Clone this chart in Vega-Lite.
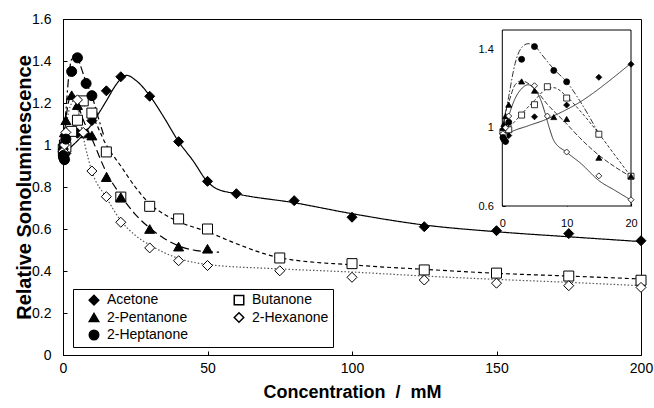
{
  "$schema": "https://vega.github.io/schema/vega-lite/v6.json",
  "width": 578,
  "height": 336,
  "autosize": {"type": "none"},
  "padding": {"left": 63, "top": 19, "right": 13, "bottom": 53},
  "background": "white",
  "config": {
    "font": "Liberation Sans",
    "view": {"stroke": "black", "strokeWidth": 1},
    "axis": {"grid": false, "labelFlush": false, "labelColor": "black", "domainColor": "black", "tickColor": "black", "titleColor": "black"},
    "legend": {
      "orient": "none", "legendX": 10, "legendY": 270, "columns": 2, "title": null,
      "strokeColor": "black", "fillColor": "white", "padding": 4,
      "symbolSize": 90, "symbolOffset": 10, "labelOffset": 6, "gridAlign": "all",
      "labelFontSize": 14, "labelColor": "black", "columnPadding": 34, "rowPadding": 1.5
    }
  },
  "datasets": {
    "points": [
      {"series": "Acetone", "conc": 0.1, "rsl": 0.97},
      {"series": "Acetone", "conc": 0.25, "rsl": 0.95},
      {"series": "Acetone", "conc": 0.5, "rsl": 0.93},
      {"series": "Acetone", "conc": 1, "rsl": 0.96},
      {"series": "Acetone", "conc": 5, "rsl": 1.056},
      {"series": "Acetone", "conc": 10, "rsl": 1.116},
      {"series": "Acetone", "conc": 15, "rsl": 1.258},
      {"series": "Acetone", "conc": 20, "rsl": 1.325},
      {"series": "Acetone", "conc": 30, "rsl": 1.232},
      {"series": "Acetone", "conc": 40, "rsl": 1.016},
      {"series": "Acetone", "conc": 50, "rsl": 0.827},
      {"series": "Acetone", "conc": 60, "rsl": 0.768},
      {"series": "Acetone", "conc": 80, "rsl": 0.735},
      {"series": "Acetone", "conc": 100, "rsl": 0.656},
      {"series": "Acetone", "conc": 125, "rsl": 0.611},
      {"series": "Acetone", "conc": 150, "rsl": 0.592},
      {"series": "Acetone", "conc": 175, "rsl": 0.578},
      {"series": "Acetone", "conc": 200, "rsl": 0.544},
      {"series": "Butanone", "conc": 0.1, "rsl": 0.98},
      {"series": "Butanone", "conc": 0.25, "rsl": 0.96},
      {"series": "Butanone", "conc": 0.5, "rsl": 1.0},
      {"series": "Butanone", "conc": 1, "rsl": 0.99},
      {"series": "Butanone", "conc": 3, "rsl": 1.065},
      {"series": "Butanone", "conc": 5, "rsl": 1.118},
      {"series": "Butanone", "conc": 7, "rsl": 1.21},
      {"series": "Butanone", "conc": 10, "rsl": 1.152},
      {"series": "Butanone", "conc": 15, "rsl": 0.967},
      {"series": "Butanone", "conc": 20, "rsl": 0.752},
      {"series": "Butanone", "conc": 30, "rsl": 0.708},
      {"series": "Butanone", "conc": 40, "rsl": 0.648},
      {"series": "Butanone", "conc": 50, "rsl": 0.6},
      {"series": "Butanone", "conc": 75, "rsl": 0.462},
      {"series": "Butanone", "conc": 100, "rsl": 0.435},
      {"series": "Butanone", "conc": 125, "rsl": 0.405},
      {"series": "Butanone", "conc": 150, "rsl": 0.39},
      {"series": "Butanone", "conc": 175, "rsl": 0.376},
      {"series": "Butanone", "conc": 200, "rsl": 0.356},
      {"series": "2-Pentanone", "conc": 0.1, "rsl": 1.0},
      {"series": "2-Pentanone", "conc": 0.25, "rsl": 1.02},
      {"series": "2-Pentanone", "conc": 0.5, "rsl": 1.06},
      {"series": "2-Pentanone", "conc": 1, "rsl": 1.118},
      {"series": "2-Pentanone", "conc": 3, "rsl": 1.237},
      {"series": "2-Pentanone", "conc": 5, "rsl": 1.19},
      {"series": "2-Pentanone", "conc": 8, "rsl": 1.055},
      {"series": "2-Pentanone", "conc": 10, "rsl": 1.045},
      {"series": "2-Pentanone", "conc": 15, "rsl": 0.847},
      {"series": "2-Pentanone", "conc": 20, "rsl": 0.752},
      {"series": "2-Pentanone", "conc": 30, "rsl": 0.6},
      {"series": "2-Pentanone", "conc": 40, "rsl": 0.516},
      {"series": "2-Pentanone", "conc": 50, "rsl": 0.506},
      {"series": "2-Hexanone", "conc": 0.1, "rsl": 0.97},
      {"series": "2-Hexanone", "conc": 0.5, "rsl": 1.0},
      {"series": "2-Hexanone", "conc": 1, "rsl": 1.06},
      {"series": "2-Hexanone", "conc": 5, "rsl": 1.215},
      {"series": "2-Hexanone", "conc": 7, "rsl": 1.06},
      {"series": "2-Hexanone", "conc": 10, "rsl": 0.876},
      {"series": "2-Hexanone", "conc": 15, "rsl": 0.754},
      {"series": "2-Hexanone", "conc": 20, "rsl": 0.632},
      {"series": "2-Hexanone", "conc": 30, "rsl": 0.51},
      {"series": "2-Hexanone", "conc": 40, "rsl": 0.449},
      {"series": "2-Hexanone", "conc": 50, "rsl": 0.426},
      {"series": "2-Hexanone", "conc": 75, "rsl": 0.401},
      {"series": "2-Hexanone", "conc": 100, "rsl": 0.37},
      {"series": "2-Hexanone", "conc": 125, "rsl": 0.357},
      {"series": "2-Hexanone", "conc": 150, "rsl": 0.342},
      {"series": "2-Hexanone", "conc": 175, "rsl": 0.33},
      {"series": "2-Hexanone", "conc": 200, "rsl": 0.322},
      {"series": "2-Heptanone", "conc": 0.1, "rsl": 0.95},
      {"series": "2-Heptanone", "conc": 0.25, "rsl": 0.94},
      {"series": "2-Heptanone", "conc": 0.5, "rsl": 0.93},
      {"series": "2-Heptanone", "conc": 1, "rsl": 1.028},
      {"series": "2-Heptanone", "conc": 3, "rsl": 1.35},
      {"series": "2-Heptanone", "conc": 5, "rsl": 1.415},
      {"series": "2-Heptanone", "conc": 8, "rsl": 1.293},
      {"series": "2-Heptanone", "conc": 10, "rsl": 1.235}
    ],
    "fit": [
      {"series": "Acetone", "conc": 0, "rsl": 0.95},
      {"series": "Acetone", "conc": 2, "rsl": 0.98},
      {"series": "Acetone", "conc": 5, "rsl": 1.02},
      {"series": "Acetone", "conc": 8, "rsl": 1.065},
      {"series": "Acetone", "conc": 10, "rsl": 1.1},
      {"series": "Acetone", "conc": 13, "rsl": 1.165},
      {"series": "Acetone", "conc": 15, "rsl": 1.21},
      {"series": "Acetone", "conc": 18, "rsl": 1.28},
      {"series": "Acetone", "conc": 20, "rsl": 1.315},
      {"series": "Acetone", "conc": 22, "rsl": 1.332},
      {"series": "Acetone", "conc": 25, "rsl": 1.31},
      {"series": "Acetone", "conc": 30, "rsl": 1.235},
      {"series": "Acetone", "conc": 35, "rsl": 1.13},
      {"series": "Acetone", "conc": 40, "rsl": 1.016},
      {"series": "Acetone", "conc": 45, "rsl": 0.925},
      {"series": "Acetone", "conc": 50, "rsl": 0.825},
      {"series": "Acetone", "conc": 53, "rsl": 0.793},
      {"series": "Acetone", "conc": 60, "rsl": 0.768},
      {"series": "Acetone", "conc": 80, "rsl": 0.725},
      {"series": "Acetone", "conc": 100, "rsl": 0.673},
      {"series": "Acetone", "conc": 125, "rsl": 0.619},
      {"series": "Acetone", "conc": 150, "rsl": 0.587},
      {"series": "Acetone", "conc": 175, "rsl": 0.563},
      {"series": "Acetone", "conc": 200, "rsl": 0.54},
      {"series": "Butanone", "conc": 0, "rsl": 0.97},
      {"series": "Butanone", "conc": 1, "rsl": 1.0},
      {"series": "Butanone", "conc": 3, "rsl": 1.07},
      {"series": "Butanone", "conc": 5, "rsl": 1.14},
      {"series": "Butanone", "conc": 7, "rsl": 1.19},
      {"series": "Butanone", "conc": 10, "rsl": 1.14},
      {"series": "Butanone", "conc": 15, "rsl": 1.0},
      {"series": "Butanone", "conc": 20, "rsl": 0.9},
      {"series": "Butanone", "conc": 25, "rsl": 0.8},
      {"series": "Butanone", "conc": 30, "rsl": 0.72},
      {"series": "Butanone", "conc": 35, "rsl": 0.67},
      {"series": "Butanone", "conc": 40, "rsl": 0.635},
      {"series": "Butanone", "conc": 50, "rsl": 0.587},
      {"series": "Butanone", "conc": 60, "rsl": 0.53},
      {"series": "Butanone", "conc": 75, "rsl": 0.463},
      {"series": "Butanone", "conc": 100, "rsl": 0.429},
      {"series": "Butanone", "conc": 125, "rsl": 0.408},
      {"series": "Butanone", "conc": 150, "rsl": 0.389},
      {"series": "Butanone", "conc": 175, "rsl": 0.376},
      {"series": "Butanone", "conc": 200, "rsl": 0.362},
      {"series": "2-Pentanone", "conc": 0, "rsl": 0.97},
      {"series": "2-Pentanone", "conc": 0.5, "rsl": 1.05},
      {"series": "2-Pentanone", "conc": 1, "rsl": 1.12},
      {"series": "2-Pentanone", "conc": 2, "rsl": 1.21},
      {"series": "2-Pentanone", "conc": 3, "rsl": 1.24},
      {"series": "2-Pentanone", "conc": 4, "rsl": 1.235},
      {"series": "2-Pentanone", "conc": 5, "rsl": 1.2},
      {"series": "2-Pentanone", "conc": 7, "rsl": 1.12},
      {"series": "2-Pentanone", "conc": 10, "rsl": 1.03},
      {"series": "2-Pentanone", "conc": 15, "rsl": 0.87},
      {"series": "2-Pentanone", "conc": 20, "rsl": 0.76},
      {"series": "2-Pentanone", "conc": 25, "rsl": 0.67},
      {"series": "2-Pentanone", "conc": 30, "rsl": 0.605},
      {"series": "2-Pentanone", "conc": 35, "rsl": 0.555},
      {"series": "2-Pentanone", "conc": 40, "rsl": 0.52},
      {"series": "2-Pentanone", "conc": 45, "rsl": 0.5},
      {"series": "2-Pentanone", "conc": 50, "rsl": 0.492},
      {"series": "2-Pentanone", "conc": 54, "rsl": 0.49},
      {"series": "2-Hexanone", "conc": 0, "rsl": 0.96},
      {"series": "2-Hexanone", "conc": 1, "rsl": 1.08},
      {"series": "2-Hexanone", "conc": 2, "rsl": 1.16},
      {"series": "2-Hexanone", "conc": 3, "rsl": 1.2},
      {"series": "2-Hexanone", "conc": 4, "rsl": 1.215},
      {"series": "2-Hexanone", "conc": 5, "rsl": 1.18},
      {"series": "2-Hexanone", "conc": 6, "rsl": 1.11},
      {"series": "2-Hexanone", "conc": 7.6, "rsl": 1.0},
      {"series": "2-Hexanone", "conc": 10, "rsl": 0.875},
      {"series": "2-Hexanone", "conc": 15, "rsl": 0.75},
      {"series": "2-Hexanone", "conc": 20, "rsl": 0.64},
      {"series": "2-Hexanone", "conc": 25, "rsl": 0.57},
      {"series": "2-Hexanone", "conc": 30, "rsl": 0.524},
      {"series": "2-Hexanone", "conc": 40, "rsl": 0.46},
      {"series": "2-Hexanone", "conc": 50, "rsl": 0.431},
      {"series": "2-Hexanone", "conc": 75, "rsl": 0.41},
      {"series": "2-Hexanone", "conc": 100, "rsl": 0.395},
      {"series": "2-Hexanone", "conc": 125, "rsl": 0.376},
      {"series": "2-Hexanone", "conc": 150, "rsl": 0.36},
      {"series": "2-Hexanone", "conc": 175, "rsl": 0.346},
      {"series": "2-Hexanone", "conc": 200, "rsl": 0.33},
      {"series": "2-Heptanone", "conc": 0, "rsl": 0.97},
      {"series": "2-Heptanone", "conc": 0.5, "rsl": 1.07},
      {"series": "2-Heptanone", "conc": 1, "rsl": 1.16},
      {"series": "2-Heptanone", "conc": 2, "rsl": 1.33},
      {"series": "2-Heptanone", "conc": 3, "rsl": 1.41},
      {"series": "2-Heptanone", "conc": 4, "rsl": 1.43},
      {"series": "2-Heptanone", "conc": 5, "rsl": 1.42},
      {"series": "2-Heptanone", "conc": 6, "rsl": 1.38},
      {"series": "2-Heptanone", "conc": 8, "rsl": 1.3},
      {"series": "2-Heptanone", "conc": 10, "rsl": 1.235},
      {"series": "2-Heptanone", "conc": 12, "rsl": 1.14},
      {"series": "2-Heptanone", "conc": 14, "rsl": 1.05}
    ],
    "insetfit": [
      {"series": "Acetone", "conc": 0, "rsl": 0.95},
      {"series": "Acetone", "conc": 1, "rsl": 0.972},
      {"series": "Acetone", "conc": 4, "rsl": 1.01},
      {"series": "Acetone", "conc": 6.6, "rsl": 1.04},
      {"series": "Acetone", "conc": 9.2, "rsl": 1.08},
      {"series": "Acetone", "conc": 12, "rsl": 1.13},
      {"series": "Acetone", "conc": 14.4, "rsl": 1.184},
      {"series": "Acetone", "conc": 17, "rsl": 1.25},
      {"series": "Acetone", "conc": 20, "rsl": 1.33},
      {"series": "Butanone", "conc": 0, "rsl": 0.97},
      {"series": "Butanone", "conc": 1, "rsl": 1.0},
      {"series": "Butanone", "conc": 3, "rsl": 1.07},
      {"series": "Butanone", "conc": 5, "rsl": 1.14},
      {"series": "Butanone", "conc": 7, "rsl": 1.2},
      {"series": "Butanone", "conc": 8, "rsl": 1.205},
      {"series": "Butanone", "conc": 10, "rsl": 1.16},
      {"series": "Butanone", "conc": 12, "rsl": 1.09},
      {"series": "Butanone", "conc": 15, "rsl": 0.97},
      {"series": "Butanone", "conc": 17.5, "rsl": 0.86},
      {"series": "Butanone", "conc": 20, "rsl": 0.75},
      {"series": "2-Pentanone", "conc": 0, "rsl": 1.0},
      {"series": "2-Pentanone", "conc": 0.5, "rsl": 1.08},
      {"series": "2-Pentanone", "conc": 1, "rsl": 1.13},
      {"series": "2-Pentanone", "conc": 2, "rsl": 1.22},
      {"series": "2-Pentanone", "conc": 3, "rsl": 1.24},
      {"series": "2-Pentanone", "conc": 5, "rsl": 1.2},
      {"series": "2-Pentanone", "conc": 7, "rsl": 1.12},
      {"series": "2-Pentanone", "conc": 10, "rsl": 1.02},
      {"series": "2-Pentanone", "conc": 12, "rsl": 0.95},
      {"series": "2-Pentanone", "conc": 15, "rsl": 0.86},
      {"series": "2-Pentanone", "conc": 17.5, "rsl": 0.8},
      {"series": "2-Pentanone", "conc": 20, "rsl": 0.75},
      {"series": "2-Hexanone", "conc": 0, "rsl": 0.96},
      {"series": "2-Hexanone", "conc": 0.5, "rsl": 1.0},
      {"series": "2-Hexanone", "conc": 1, "rsl": 1.06},
      {"series": "2-Hexanone", "conc": 2, "rsl": 1.15},
      {"series": "2-Hexanone", "conc": 3, "rsl": 1.2},
      {"series": "2-Hexanone", "conc": 4, "rsl": 1.22},
      {"series": "2-Hexanone", "conc": 5, "rsl": 1.2},
      {"series": "2-Hexanone", "conc": 6, "rsl": 1.14},
      {"series": "2-Hexanone", "conc": 6.6, "rsl": 1.08},
      {"series": "2-Hexanone", "conc": 7.3, "rsl": 1.0},
      {"series": "2-Hexanone", "conc": 8, "rsl": 0.935},
      {"series": "2-Hexanone", "conc": 10, "rsl": 0.875},
      {"series": "2-Hexanone", "conc": 12.3, "rsl": 0.815},
      {"series": "2-Hexanone", "conc": 15, "rsl": 0.73},
      {"series": "2-Hexanone", "conc": 17.5, "rsl": 0.68},
      {"series": "2-Hexanone", "conc": 20, "rsl": 0.63},
      {"series": "2-Heptanone", "conc": 0, "rsl": 0.97},
      {"series": "2-Heptanone", "conc": 0.5, "rsl": 1.07},
      {"series": "2-Heptanone", "conc": 1, "rsl": 1.16},
      {"series": "2-Heptanone", "conc": 2, "rsl": 1.33},
      {"series": "2-Heptanone", "conc": 3, "rsl": 1.41},
      {"series": "2-Heptanone", "conc": 4, "rsl": 1.43},
      {"series": "2-Heptanone", "conc": 5, "rsl": 1.42},
      {"series": "2-Heptanone", "conc": 6, "rsl": 1.38},
      {"series": "2-Heptanone", "conc": 8, "rsl": 1.3},
      {"series": "2-Heptanone", "conc": 10, "rsl": 1.235},
      {"series": "2-Heptanone", "conc": 12, "rsl": 1.14},
      {"series": "2-Heptanone", "conc": 15, "rsl": 0.97}
    ],
    "insetframe": [{"x0": 0, "x1": 20, "y0": 0.6, "y1": 1.5}]
  },
  "layer": [
    {
      "layer": [
        {
          "data": {"name": "fit"},
          "mark": {"type": "line", "interpolate": "monotone", "strokeWidth": 1.2},
          "encoding": {
            "x": {"field": "conc", "type": "quantitative", "scale": {"domain": [0, 200], "nice": false, "zero": false},
              "axis": {"orient": "bottom", "values": [0, 50, 100, 150, 200], "tickSize": -4, "labelPadding": 10, "labelFontSize": 14, "title": "Concentration\u00a0 /\u00a0 mM", "titleFontSize": 18, "titleFontWeight": "bold", "titlePadding": 8}},
            "y": {"field": "rsl", "type": "quantitative", "scale": {"domain": [0, 1.6], "nice": false, "zero": false},
              "axis": {"orient": "left", "values": [0, 0.2, 0.4, 0.6, 0.8, 1, 1.2, 1.4, 1.6], "format": "~g", "tickSize": -4, "labelPadding": 16, "labelFontSize": 14, "title": "Relative Sonoluminescence", "titleFontSize": 20, "titleFontWeight": "bold", "titleX": -33, "titleBaseline": "alphabetic"}},
            "detail": {"field": "series"},
            "strokeDash": {"field": "series", "type": "nominal", "legend": null,
              "sort": ["Acetone", "Butanone", "2-Pentanone", "2-Hexanone", "2-Heptanone"],
              "scale": {"range": [[1, 0], [4, 3], [8, 4], [1.5, 2], [8, 3, 2, 3]]}},
            "stroke": {"field": "series", "type": "nominal", "legend": null,
              "sort": ["Acetone", "Butanone", "2-Pentanone", "2-Hexanone", "2-Heptanone"],
              "scale": {"range": ["black", "black", "black", "#555555", "black"]}}
          }
        },
        {
          "data": {"name": "points"},
          "mark": {"type": "point", "filled": true, "size": 100, "stroke": "black", "strokeWidth": 1, "opacity": 1},
          "encoding": {
            "x": {"field": "conc", "type": "quantitative", "title": "Concentration\u00a0 /\u00a0 mM"},
            "y": {"field": "rsl", "type": "quantitative", "title": "Relative Sonoluminescence"},
            "shape": {"field": "series", "type": "nominal",
              "scale": {"domain": ["Acetone", "2-Pentanone", "2-Heptanone", "Butanone", "2-Hexanone"], "range": ["diamond", "triangle-up", "circle", "square", "diamond"]},
              "legend": {"encode": {"symbols": {"update": {"stroke": {"value": "black"}, "strokeWidth": {"value": 1}}}}}},
            "fill": {"field": "series", "type": "nominal",
              "scale": {"domain": ["Acetone", "2-Pentanone", "2-Heptanone", "Butanone", "2-Hexanone"], "range": ["black", "black", "black", "white", "white"]},
              "legend": {"encode": {"symbols": {"update": {"stroke": {"value": "black"}, "strokeWidth": {"value": 1}}}}}}
          }
        }
      ]
    },
    {
      "layer": [
        {
          "data": {"name": "insetframe"},
          "mark": {"type": "rect", "fill": "white", "stroke": "black", "strokeWidth": 1},
          "encoding": {
            "x": {"field": "x0", "type": "quantitative", "scale": {"domain": [0, 20], "range": [439.3, 568], "nice": false, "zero": false},
              "axis": {"orient": "bottom", "offset": -149, "values": [0, 10, 20], "domain": false, "tickSize": -3, "labelPadding": 14, "labelFontSize": 11, "title": null}},
            "x2": {"field": "x1"},
            "y": {"field": "y0", "type": "quantitative", "scale": {"domain": [0.6, 1.5], "range": [187, 11], "nice": false, "zero": false},
              "axis": {"orient": "left", "offset": -439.3, "values": [0.6, 1, 1.4], "format": "~g", "domain": false, "tickSize": -3, "labelPadding": 12, "labelFontSize": 11, "title": null}},
            "y2": {"field": "y1"}
          }
        },
        {
          "data": {"name": "insetfit"},
          "mark": {"type": "line", "interpolate": "monotone", "strokeWidth": 1, "stroke": "#333333"},
          "encoding": {
            "x": {"field": "conc", "type": "quantitative"},
            "y": {"field": "rsl", "type": "quantitative"},
            "detail": {"field": "series"},
            "strokeDash": {"field": "series", "type": "nominal", "legend": null,
              "sort": ["Acetone", "Butanone", "2-Pentanone", "2-Hexanone", "2-Heptanone"],
              "scale": {"range": [[1, 0], [3, 2], [5, 2], [1, 0], [6, 2, 1.5, 2]]}}
          }
        },
        {
          "data": {"name": "points"},
          "transform": [{"filter": "datum.conc <= 20"}],
          "mark": {"type": "point", "filled": true, "size": 36, "stroke": "black", "strokeWidth": 0.8, "opacity": 1},
          "encoding": {
            "x": {"field": "conc", "type": "quantitative"},
            "y": {"field": "rsl", "type": "quantitative"},
            "shape": {"field": "series", "type": "nominal"},
            "fill": {"field": "series", "type": "nominal"}
          }
        }
      ]
    }
  ],
  "resolve": {
    "scale": {"x": "independent", "y": "independent", "strokeDash": "independent"},
    "axis": {"x": "independent", "y": "independent"}
  }
}
